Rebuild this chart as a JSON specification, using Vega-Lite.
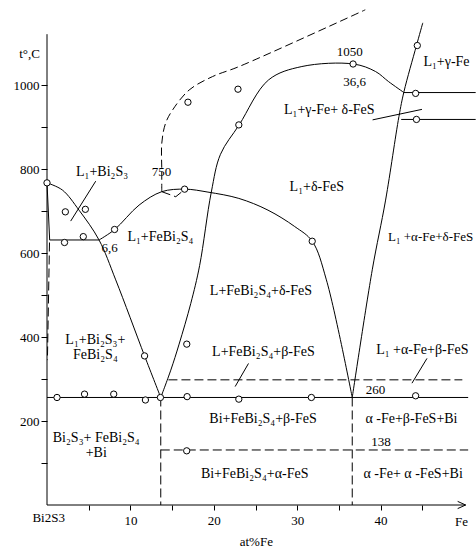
{
  "$schema": "https://vega.github.io/schema/vega-lite/v6.json",
  "width": 417,
  "height": 504,
  "autosize": {"type": "none"},
  "padding": {"left": 47, "top": 1, "right": 12, "bottom": 44},
  "background": "white",
  "config": {"view": {"stroke": null}, "font": "Liberation Serif"},
  "datasets": {
    "curves": [
      {"id": "c1", "o": 1, "x": 0, "y": 767},
      {"id": "c1", "o": 2, "x": 1.84, "y": 750},
      {"id": "c1", "o": 3, "x": 3.84, "y": 702},
      {"id": "c1", "o": 4, "x": 6.24, "y": 631},
      {"id": "c1", "o": 5, "x": 8.24, "y": 536},
      {"id": "c1", "o": 6, "x": 11.7, "y": 355},
      {"id": "c1", "o": 7, "x": 13.64, "y": 256},
      {"id": "c2", "o": 1, "x": 6.24, "y": 631},
      {"id": "c2", "o": 2, "x": 8.12, "y": 656},
      {"id": "c2", "o": 3, "x": 11.04, "y": 714},
      {"id": "c2", "o": 4, "x": 13.76, "y": 746},
      {"id": "c2", "o": 5, "x": 16.56, "y": 752},
      {"id": "c2", "o": 6, "x": 19.3, "y": 745},
      {"id": "c2", "o": 7, "x": 23.0, "y": 730},
      {"id": "c2", "o": 8, "x": 26.5, "y": 702},
      {"id": "c2", "o": 9, "x": 29.7, "y": 663},
      {"id": "c2", "o": 10, "x": 31.8, "y": 628},
      {"id": "c2", "o": 11, "x": 33.5, "y": 536},
      {"id": "c2", "o": 12, "x": 36.6, "y": 256},
      {"id": "c3", "o": 1, "x": 13.64, "y": 256},
      {"id": "c3", "o": 2, "x": 14.84, "y": 321},
      {"id": "c3", "o": 3, "x": 15.84, "y": 383},
      {"id": "c3", "o": 4, "x": 17.24, "y": 480},
      {"id": "c3", "o": 5, "x": 18.3, "y": 570},
      {"id": "c3", "o": 6, "x": 19.7, "y": 745},
      {"id": "c3", "o": 7, "x": 20.8, "y": 835},
      {"id": "c3", "o": 8, "x": 23.04, "y": 905},
      {"id": "c3", "o": 9, "x": 26.56, "y": 1012},
      {"id": "c3", "o": 10, "x": 30.56, "y": 1044},
      {"id": "c3", "o": 11, "x": 36.76, "y": 1050},
      {"id": "c3", "o": 12, "x": 39.4, "y": 1032},
      {"id": "c3", "o": 13, "x": 40.96, "y": 1008},
      {"id": "c3", "o": 14, "x": 42.8, "y": 982},
      {"id": "c4", "o": 1, "x": 36.6, "y": 256},
      {"id": "c4", "o": 2, "x": 39.0, "y": 560},
      {"id": "c4", "o": 3, "x": 40.6, "y": 726},
      {"id": "c4", "o": 4, "x": 42.2, "y": 925},
      {"id": "c4", "o": 5, "x": 42.8, "y": 984},
      {"id": "c4", "o": 6, "x": 44.3, "y": 1094},
      {"id": "c4", "o": 7, "x": 45.06, "y": 1148}
    ],
    "straight": [
      {"id": "s1", "o": 1, "x": 0, "y": 767},
      {"id": "s1", "o": 2, "x": 0.32, "y": 631},
      {"id": "s1", "o": 3, "x": 6.24, "y": 631},
      {"id": "s2", "o": 1, "x": 0, "y": 256},
      {"id": "s2", "o": 2, "x": 50.5, "y": 256},
      {"id": "s3", "o": 1, "x": 42.8, "y": 982},
      {"id": "s3", "o": 2, "x": 51.4, "y": 982},
      {"id": "s4", "o": 1, "x": 42.47, "y": 918},
      {"id": "s4", "o": 2, "x": 51.4, "y": 918},
      {"id": "l1", "o": 1, "x": 5.84, "y": 771},
      {"id": "l1", "o": 2, "x": 2.84, "y": 676},
      {"id": "l2", "o": 1, "x": 39.04, "y": 917},
      {"id": "l2", "o": 2, "x": 44.96, "y": 942},
      {"id": "l3", "o": 1, "x": 24.16, "y": 337},
      {"id": "l3", "o": 2, "x": 22.56, "y": 282},
      {"id": "l4", "o": 1, "x": 45.56, "y": 349},
      {"id": "l4", "o": 2, "x": 43.76, "y": 290},
      {"id": "ax", "o": 1, "x": 0, "y": 0},
      {"id": "ax", "o": 2, "x": 50.2, "y": 0},
      {"id": "ay", "o": 1, "x": 0, "y": 0},
      {"id": "ay", "o": 2, "x": 0, "y": 1121}
    ],
    "dashcurve": [
      {"id": "d1", "o": 1, "x": 13.76, "y": 746},
      {"id": "d1", "o": 2, "x": 13.76, "y": 800},
      {"id": "d1", "o": 3, "x": 13.76, "y": 861},
      {"id": "d1", "o": 4, "x": 14.2, "y": 908},
      {"id": "d1", "o": 5, "x": 15.04, "y": 940},
      {"id": "d1", "o": 6, "x": 17.04, "y": 988},
      {"id": "d1", "o": 7, "x": 19.84, "y": 1020},
      {"id": "d1", "o": 8, "x": 23.04, "y": 1044},
      {"id": "d1", "o": 9, "x": 38.16, "y": 1179}
    ],
    "dashed": [
      {"id": "d2", "o": 1, "x": 0.3, "y": 625},
      {"id": "d2", "o": 2, "x": 0.05, "y": 345},
      {"id": "d3", "o": 1, "x": 13.76, "y": 746},
      {"id": "d3", "o": 2, "x": 15.44, "y": 734},
      {"id": "d3", "o": 3, "x": 16.56, "y": 752},
      {"id": "d4", "o": 1, "x": 13.64, "y": 256},
      {"id": "d4", "o": 2, "x": 13.64, "y": 0},
      {"id": "d5", "o": 1, "x": 36.6, "y": 256},
      {"id": "d5", "o": 2, "x": 36.6, "y": 0},
      {"id": "d6", "o": 1, "x": 14.56, "y": 298},
      {"id": "d6", "o": 2, "x": 49.8, "y": 298},
      {"id": "d7", "o": 1, "x": 13.64, "y": 131},
      {"id": "d7", "o": 2, "x": 50.5, "y": 131}
    ],
    "points": [
      {"x": 0, "y": 767}, {"x": 2.2, "y": 698}, {"x": 4.6, "y": 704},
      {"x": 2.1, "y": 625}, {"x": 4.35, "y": 639}, {"x": 8.1, "y": 656},
      {"x": 16.5, "y": 752}, {"x": 11.7, "y": 355}, {"x": 16.76, "y": 383},
      {"x": 16.9, "y": 959}, {"x": 22.9, "y": 990}, {"x": 23.0, "y": 905},
      {"x": 36.7, "y": 1050}, {"x": 44.4, "y": 1094}, {"x": 44.2, "y": 980},
      {"x": 44.3, "y": 918}, {"x": 31.8, "y": 628}, {"x": 1.2, "y": 256},
      {"x": 4.5, "y": 264}, {"x": 8.0, "y": 264}, {"x": 11.8, "y": 250},
      {"x": 13.6, "y": 256}, {"x": 16.8, "y": 258}, {"x": 23.0, "y": 252},
      {"x": 31.7, "y": 256}, {"x": 44.2, "y": 260}, {"x": 16.75, "y": 129}
    ],
    "labels": [
      {"x": 6.6, "y": 793, "t": "L₁+Bi₂S₃"},
      {"x": 13.6, "y": 638, "t": "L₁+FeBi₂S₄"},
      {"x": 47.9, "y": 1055, "t": "L₁+γ-Fe"},
      {"x": 33.85, "y": 940, "t": "L₁+γ-Fe+ δ-FeS"},
      {"x": 32.35, "y": 758, "t": "L₁+δ-FeS"},
      {"x": 25.65, "y": 510, "t": "L+FeBi₂S₄+δ-FeS"},
      {"x": 25.95, "y": 365, "t": "L+FeBi₂S₄+β-FeS"},
      {"x": 45.0, "y": 369, "t": "L₁ +α-Fe+β-FeS"},
      {"x": 25.9, "y": 204, "t": "Bi+FeBi₂S₄+β-FeS"},
      {"x": 43.7, "y": 204, "t": "α -Fe+β-FeS+Bi"},
      {"x": 24.9, "y": 73, "t": "Bi+FeBi₂S₄+α-FeS"},
      {"x": 43.9, "y": 75, "t": "α -Fe+ α -FeS+Bi"},
      {"x": 5.8, "y": 393, "t": "L₁+Bi₂S₃+"},
      {"x": 5.8, "y": 357, "t": "FeBi₂S₄"},
      {"x": 5.9, "y": 159, "t": "Bi₂S₃+ FeBi₂S₄"},
      {"x": 5.9, "y": 123, "t": "+Bi"}
    ],
    "numlabels": [
      {"x": 13.74, "y": 794, "t": "750"},
      {"x": 7.5, "y": 611, "t": "6,6"},
      {"x": 36.3, "y": 1079, "t": "1050"},
      {"x": 36.9, "y": 1008, "t": "36,6"},
      {"x": 39.4, "y": 275, "t": "260"},
      {"x": 40.05, "y": 151, "t": "138"},
      {"x": -2.1, "y": 1075, "t": "t°,C"},
      {"x": 0.2, "y": -32, "t": "Bi2S3"},
      {"x": 49.7, "y": -40, "t": "Fe"},
      {"x": 25.1, "y": -87, "t": "at%Fe"},
      {"x": 46.0, "y": 637, "t": "L₁ +α-Fe+δ-FeS"}
    ],
    "arrow": [{"x": 50.2, "y": 0}]
  },
  "layer": [
    {
      "data": {"name": "straight"},
      "mark": {"type": "line", "color": "black", "strokeWidth": 1, "interpolate": "linear", "clip": false},
      "encoding": {
        "x": {"field": "x", "type": "quantitative", "scale": {"domain": [0, 50], "nice": false, "zero": false},
          "axis": {"values": [5, 10, 15, 20, 25, 30, 35, 40, 45], "labelExpr": "datum.value % 10 == 0 ? datum.label : ''",
            "domain": false, "grid": false, "title": null, "tickSize": 5, "tickColor": "black", "labelPadding": 4,
            "labelFont": "Liberation Serif", "labelFontSize": 13, "labelColor": "black", "labelFlush": false}},
        "y": {"field": "y", "type": "quantitative", "scale": {"domain": [0, 1200], "nice": false, "zero": false},
          "axis": {"values": [100, 200, 300, 400, 500, 600, 700, 800, 900, 1000], "labelExpr": "datum.value % 200 == 0 ? datum.value : ''",
            "domain": false, "grid": false, "title": null, "tickSize": 6, "tickColor": "black", "labelPadding": 2,
            "labelFont": "Liberation Serif", "labelFontSize": 13, "labelColor": "black", "labelFlush": false}},
        "detail": {"field": "id"},
        "order": {"field": "o", "type": "quantitative"}
      }
    },
    {
      "data": {"name": "curves"},
      "mark": {"type": "line", "color": "black", "strokeWidth": 1, "interpolate": "catmull-rom", "clip": false},
      "encoding": {
        "x": {"field": "x", "type": "quantitative"},
        "y": {"field": "y", "type": "quantitative"},
        "detail": {"field": "id"},
        "order": {"field": "o", "type": "quantitative"}
      }
    },
    {
      "data": {"name": "dashcurve"},
      "mark": {"type": "line", "color": "black", "strokeWidth": 1, "strokeDash": [8, 4], "interpolate": "catmull-rom", "clip": false},
      "encoding": {
        "x": {"field": "x", "type": "quantitative"},
        "y": {"field": "y", "type": "quantitative"},
        "detail": {"field": "id"},
        "order": {"field": "o", "type": "quantitative"}
      }
    },
    {
      "data": {"name": "dashed"},
      "mark": {"type": "line", "color": "black", "strokeWidth": 1, "strokeDash": [9, 4], "interpolate": "linear", "clip": false},
      "encoding": {
        "x": {"field": "x", "type": "quantitative"},
        "y": {"field": "y", "type": "quantitative"},
        "detail": {"field": "id"},
        "order": {"field": "o", "type": "quantitative"}
      }
    },
    {
      "data": {"name": "points"},
      "mark": {"type": "point", "shape": "circle", "filled": true, "fill": "white", "stroke": "black", "strokeWidth": 1, "size": 40, "opacity": 1, "clip": false},
      "encoding": {
        "x": {"field": "x", "type": "quantitative"},
        "y": {"field": "y", "type": "quantitative"}
      }
    },
    {
      "data": {"name": "arrow"},
      "mark": {"type": "point", "shape": "M-1,-0.45L0,0L-1,0.45", "filled": false, "stroke": "black", "strokeWidth": 1, "size": 256, "opacity": 1, "clip": false},
      "encoding": {
        "x": {"field": "x", "type": "quantitative"},
        "y": {"field": "y", "type": "quantitative"}
      }
    },
    {
      "data": {"name": "labels"},
      "mark": {"type": "text", "font": "Liberation Serif", "fontSize": 14, "color": "black", "align": "center", "baseline": "middle", "clip": false},
      "encoding": {
        "x": {"field": "x", "type": "quantitative"},
        "y": {"field": "y", "type": "quantitative"},
        "text": {"field": "t"}
      }
    },
    {
      "data": {"name": "numlabels"},
      "mark": {"type": "text", "font": "Liberation Serif", "fontSize": 13, "color": "black", "align": "center", "baseline": "middle", "clip": false},
      "encoding": {
        "x": {"field": "x", "type": "quantitative"},
        "y": {"field": "y", "type": "quantitative"},
        "text": {"field": "t"}
      }
    }
  ]
}
